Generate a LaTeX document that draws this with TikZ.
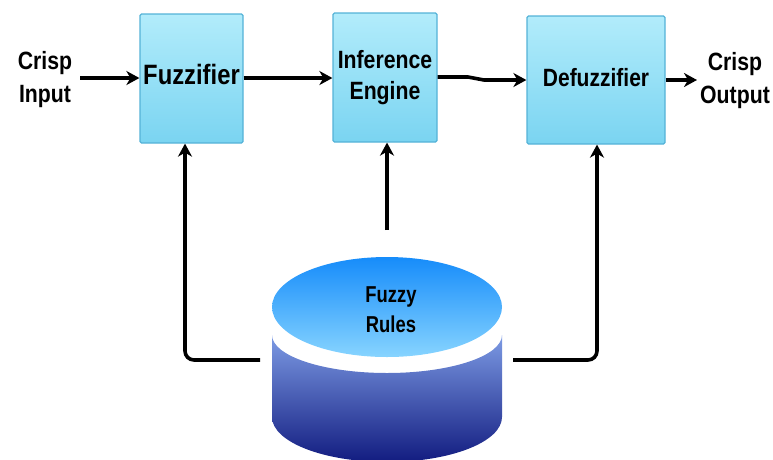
\documentclass[tikz,border=0pt]{standalone}
\usepackage{fontspec}
\setmainfont{Liberation Sans}
\usetikzlibrary{arrows.meta}
\definecolor{boxtop}{RGB}{178,236,251}
\definecolor{boxbot}{RGB}{122,212,241}
\definecolor{boxline}{RGB}{84,178,215}
\definecolor{captop}{RGB}{22,140,250}
\definecolor{capbot}{RGB}{135,212,255}
\definecolor{bodytop}{RGB}{125,155,228}
\definecolor{bodybot}{RGB}{18,28,128}
\newcommand\narrowtext[2]{\scalebox{#1}[1]{\begin{tabular}{@{}c@{}}#2\end{tabular}}}
\tikzset{
  blockbox/.style={draw=boxline, line width=1.2pt, top color=boxtop, bottom color=boxbot,
    rounded corners=1.5pt, inner sep=0pt, font=\bfseries\fontsize{25}{31}\selectfont},
  lbl/.style={inner sep=0pt, font=\bfseries\fontsize{25}{33}\selectfont},
  conn/.style={line width=3.6pt, black, -{Stealth[length=13pt,width=14pt,inset=4pt]}},
}
\begin{document}
\begin{tikzpicture}[x=1pt,y=-1pt]
\useasboundingbox (0,0) rectangle (773,459);
% blocks
\node[blockbox, minimum width=103pt, minimum height=129pt] (fuz) at (191.5,78.5)
  {\fontsize{28}{31}\selectfont\narrowtext{0.85}{Fuzzifier}};
\node[blockbox, minimum width=104pt, minimum height=129pt] (inf) at (385,77.5)
  {\narrowtext{0.85}{Inference\\Engine}};
\node[blockbox, minimum width=138pt, minimum height=128pt] (def) at (596,80)
  {\narrowtext{0.84}{Defuzzifier}};
% side labels
\node[lbl] (cin) at (45,79) {\narrowtext{0.85}{Crisp\\Input}};
\node[lbl] (cout) at (735,80) {\narrowtext{0.85}{Crisp\\Output}};
% cylinder
\begin{scope}
\clip (0,0) rectangle (773,459);
\path[top color=bodytop, bottom color=bodybot]
  (272,335) -- (272,417) arc[start angle=180, end angle=360, x radius=115pt, y radius=45pt]
  -- (502,335) arc[start angle=0, end angle=-180, x radius=115pt, y radius=38pt] -- cycle;
\path[top color=captop, bottom color=capbot]
  (387,307) ellipse[x radius=115pt, y radius=50pt];
\end{scope}
\node[inner sep=0pt, font=\bfseries\fontsize{23}{30}\selectfont] (rules) at (391,311)
  {\narrowtext{0.8}{Fuzzy\\Rules}};
% connector coordinates
\coordinate (inA) at (80,78);
\coordinate (j1) at (468,77);
\coordinate (j2) at (484,80);
\coordinate (outA) at (697,80);
\coordinate (rl) at (260,360);
\coordinate (rr) at (513,360);
\coordinate (rm) at (387,230);
% connectors
\draw[conn] (inA) -- (fuz.west|-inA);
\draw[conn] (fuz.east|-inA) -- (inf.west|-inA);
\draw[conn] (inf.east|-j1) -- (j1) -- (j2) -- (def.west|-j2);
\draw[conn] (def.east|-outA) -- (outA);
\draw[conn, rounded corners=9pt] (rl) -| ([xshift=-6.5pt]fuz.south);
\draw[conn, rounded corners=9pt] (rr) -| ([xshift=1pt]def.south);
\draw[conn] (rm) -- (rm|-inf.south);
\end{tikzpicture}
\end{document}
